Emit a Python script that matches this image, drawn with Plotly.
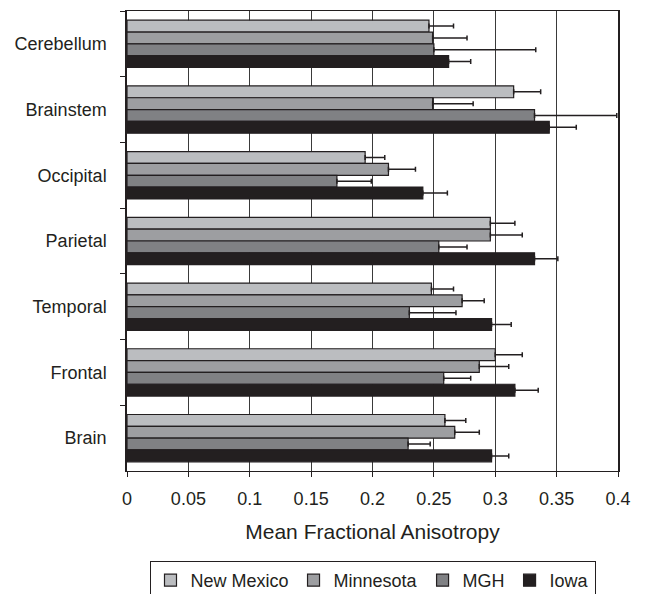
import plotly.graph_objects as go

categories = ["Cerebellum", "Brainstem", "Occipital", "Parietal", "Temporal", "Frontal", "Brain"]
series_names = ["New Mexico", "Minnesota", "MGH", "Iowa"]

new_mexico = [0.246, 0.315, 0.194, 0.296, 0.248, 0.300, 0.259]
new_mexico_err = [0.020, 0.022, 0.016, 0.020, 0.018, 0.022, 0.017]
minnesota = [0.249, 0.249, 0.213, 0.296, 0.273, 0.287, 0.267]
minnesota_err = [0.028, 0.033, 0.022, 0.026, 0.018, 0.024, 0.020]
mgh = [0.250, 0.332, 0.171, 0.254, 0.230, 0.258, 0.229]
mgh_err = [0.083, 0.067, 0.028, 0.023, 0.038, 0.022, 0.018]
iowa = [0.262, 0.344, 0.241, 0.332, 0.297, 0.316, 0.297]
iowa_err = [0.018, 0.022, 0.020, 0.019, 0.016, 0.019, 0.014]

values = [new_mexico, minnesota, mgh, iowa]
errors = [new_mexico_err, minnesota_err, mgh_err, iowa_err]
colors = ["#BBBDC0", "#9D9EA1", "#808184", "#231F20"]

fig = go.Figure()
for name, vals, errs, col in zip(series_names, values, errors, colors):
    fig.add_trace(go.Bar(
        name=name, y=categories, x=vals, orientation="h",
        marker=dict(color=col, line=dict(color="#231F20", width=1.2)),
        error_x=dict(type="data", symmetric=False, array=errs,
                     arrayminus=[0] * len(errs), color="#231F20",
                     thickness=1.5, width=2.5),
    ))

fig.update_layout(
    width=653, height=594,
    margin=dict(l=127, r=35, t=11, b=123, autoexpand=False),
    paper_bgcolor="white", plot_bgcolor="white",
    font=dict(family="Liberation Sans, Arial, sans-serif", size=18, color="#231F20"),
    barmode="group", bargap=0.28, bargroupgap=0,
    showlegend=True,
    legend=dict(orientation="h", x=0.5, xanchor="center", xref="paper",
                y=(594 - 561) / 594, yanchor="top", yref="container",
                bordercolor="#231F20", borderwidth=1, font=dict(size=18),
                itemwidth=30, traceorder="normal", tracegroupgap=0),
    xaxis=dict(range=[0, 0.4], dtick=0.05, tick0=0, showgrid=True,
               gridcolor="#3a3a3a", gridwidth=1, showline=True, linecolor="#231F20",
               linewidth=1, mirror=True, ticks="outside", ticklen=5, tickcolor="#231F20",
               ticklabelstandoff=6, automargin=False,
               title=dict(text="Mean Fractional Anisotropy", font=dict(size=21), standoff=16),
               zeroline=False),
    yaxis=dict(type="category", autorange="reversed", showline=True, linecolor="#231F20",
               linewidth=1.5, mirror=True, ticks="outside", ticklen=5, tickcolor="#231F20",
               tickson="boundaries", showgrid=False, ticklabelstandoff=15, automargin=False),
)

fig.write_html("out.html")
